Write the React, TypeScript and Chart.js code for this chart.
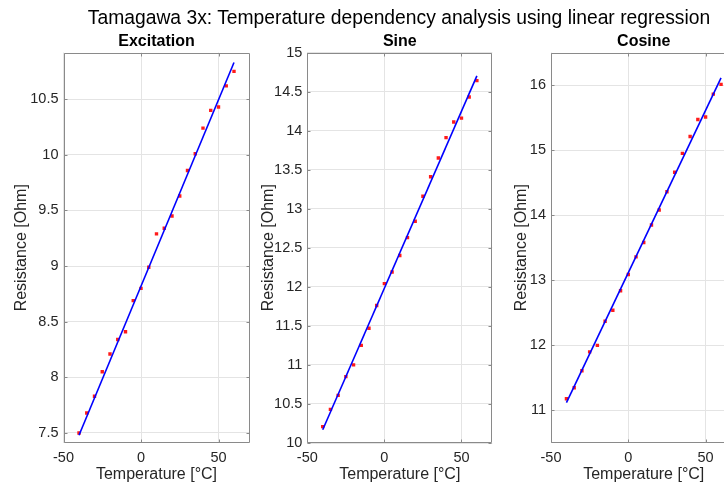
import React, { useEffect, useRef } from "react";
import { Chart, registerables } from "chart.js";

Chart.register(...registerables);

// ---- data ----
const temperatures = [-40, -35, -30, -25, -20, -15, -10, -5, 0, 5, 10, 15, 20, 25, 30, 35, 40, 45, 50, 55, 60];

const excitationValues = [7.50, 7.68, 7.83, 8.05, 8.21, 8.34, 8.41, 8.69, 8.80, 8.99, 9.29, 9.34, 9.45, 9.63, 9.86, 10.01, 10.24, 10.40, 10.43, 10.62, 10.75];
const sineValues = [10.21, 10.43, 10.61, 10.85, 11.00, 11.25, 11.47, 11.76, 12.04, 12.19, 12.40, 12.63, 12.84, 13.16, 13.41, 13.65, 13.91, 14.11, 14.16, 14.43, 14.64];
const cosineValues = [11.18, 11.35, 11.61, 11.90, 12.00, 12.37, 12.54, 12.84, 13.09, 13.36, 13.58, 13.85, 14.08, 14.36, 14.66, 14.95, 15.21, 15.47, 15.51, 15.86, 16.01];

// regression line end points (at first and last temperature)
const fitTemperatures = [-40, 60];
const excitationFit = [7.48, 10.83];
const sineFit = [10.17, 14.70];
const cosineFit = [11.12, 16.11];

const xTicks = [-50, 0, 50];
const excitationTicks = [7.5, 8, 8.5, 9, 9.5, 10, 10.5];
const sineTicks = [10, 10.5, 11, 11.5, 12, 12.5, 13, 13.5, 14, 14.5, 15];
const cosineTicks = [11, 12, 13, 14, 15, 16];

const mainTitle = "Tamagawa 3x: Temperature dependency analysis using linear regression";
const panelTitles = ["Excitation", "Sine", "Cosine"];
const xLabel = "Temperature [°C]";
const yLabel = "Resistance [Ohm]";

const FONT = "'Liberation Sans', Arial, Helvetica, sans-serif";
const AXIS_COLOR = "#8a8a8a";
const TEXT_COLOR = "#262626";
const GRID_COLOR = "#e4e4e4";

type Panel = {
  title: string;
  values: number[];
  fit: number[];
  yTicks: number[];
  yMin: number;
  yMax: number;
  left: number;
  width: number;
  yAxisWidth: number;
  padRight: number;
  yTitlePad: number;
};

const panels: Panel[] = [
  { title: panelTitles[0], values: excitationValues, fit: excitationFit, yTicks: excitationTicks, yMin: 7.41, yMax: 10.92, left: 0, width: 254, yAxisWidth: 63.5, padRight: 4.5, yTitlePad: 12.4 },
  { title: panelTitles[1], values: sineValues, fit: sineFit, yTicks: sineTicks, yMin: 10, yMax: 15, left: 254, width: 244, yAxisWidth: 53.3, padRight: 5.7, yTitlePad: 5.4 },
  { title: panelTitles[2], values: cosineValues, fit: cosineFit, yTicks: cosineTicks, yMin: 10.5, yMax: 16.5, left: 498, width: 250, yAxisWidth: 53, padRight: 11.5, yTitlePad: 13.9 },
];

const HEIGHT = 486;
const PLOT_BOTTOM = 443;

const boxPlugin = {
  id: "matlabBox",
  afterDraw(chart: any) {
    const { ctx, chartArea } = chart;
    const xs = chart.scales.x;
    const ys = chart.scales.y;
    const l = Math.round(chartArea.left) + 0.5;
    const r = Math.round(chartArea.right) - 0.5;
    const t = Math.round(chartArea.top) + 0.5;
    const b = Math.round(chartArea.bottom) - 0.5;
    ctx.save();
    ctx.strokeStyle = AXIS_COLOR;
    ctx.lineWidth = 1;
    ctx.beginPath();
    ctx.rect(l, t, r - l, b - t);
    const len = 3;
    xs.ticks.forEach((tk: any) => {
      const p = Math.round(xs.getPixelForValue(tk.value)) + 0.5;
      ctx.moveTo(p, b);
      ctx.lineTo(p, b - len);
      ctx.moveTo(p, t);
      ctx.lineTo(p, t + len);
    });
    ys.ticks.forEach((tk: any) => {
      const p = Math.round(ys.getPixelForValue(tk.value)) + 0.5;
      ctx.moveTo(l, p);
      ctx.lineTo(l + len, p);
      ctx.moveTo(r, p);
      ctx.lineTo(r - len, p);
    });
    ctx.stroke();
    ctx.restore();
  },
};

function PanelChart({ panel }: { panel: Panel }) {
  const ref = useRef<HTMLCanvasElement | null>(null);
  useEffect(() => {
    if (!ref.current) return;
    const points = temperatures.map((t, i) => ({ x: t, y: panel.values[i] }));
    const line = fitTemperatures.map((t, i) => ({ x: t, y: panel.fit[i] }));
    const chart = new Chart(ref.current, {
      type: "scatter",
      data: {
        datasets: [
          {
            label: "fit",
            data: line,
            showLine: true,
            borderColor: "#0000ff",
            borderWidth: 1.6,
            pointRadius: 0,
            fill: false,
          },
          {
            label: "measured",
            data: points,
            pointStyle: "rect",
            pointRadius: 2.4,
            backgroundColor: "#ff1a1a",
            borderWidth: 0,
          },
        ],
      } as any,
      options: {
        animation: false,
        responsive: false,
        devicePixelRatio: 1,
        events: [],
        layout: { padding: { left: 0, right: panel.padRight, top: 0, bottom: 0 } },
        plugins: {
          legend: { display: false },
          tooltip: { enabled: false },
          title: {
            display: true,
            text: panel.title,
            fullSize: false,
            color: "#000",
            font: { family: FONT, size: 16, weight: "bold" },
            padding: { top: 32, bottom: 1.3 },
          },
        },
        scales: {
          x: {
            type: "linear",
            min: -50,
            max: 70,
            afterBuildTicks: (s: any) => {
              s.ticks = xTicks.map((value) => ({ value }));
            },
            afterFit: (s: any) => {
              s.height = HEIGHT - PLOT_BOTTOM;
            },
            ticks: {
              color: TEXT_COLOR,
              font: { family: FONT, size: 14.5 },
              padding: 5.8,
              maxRotation: 0,
              autoSkip: false,
              callback: (v: any) => String(v),
            },
            grid: { color: GRID_COLOR, drawTicks: false, lineWidth: 1 },
            border: { display: false },
            title: {
              display: true,
              text: xLabel,
              color: TEXT_COLOR,
              font: { family: FONT, size: 16 },
              padding: { top: 0, bottom: 1.4 },
            },
          },
          y: {
            type: "linear",
            min: panel.yMin,
            max: panel.yMax,
            afterBuildTicks: (s: any) => {
              s.ticks = panel.yTicks.map((value) => ({ value }));
            },
            afterFit: (s: any) => {
              s.width = panel.yAxisWidth;
            },
            ticks: {
              color: TEXT_COLOR,
              font: { family: FONT, size: 14.5 },
              padding: 5,
              autoSkip: false,
              callback: (v: any) => String(v),
            },
            grid: { color: GRID_COLOR, drawTicks: false, lineWidth: 1 },
            border: { display: false },
            title: {
              display: true,
              text: yLabel,
              color: TEXT_COLOR,
              font: { family: FONT, size: 16 },
              padding: { top: panel.yTitlePad, bottom: 0 },
            },
          },
        },
      } as any,
      plugins: [boxPlugin],
    });
    return () => chart.destroy();
  }, [panel]);
  return (
    <canvas
      ref={ref}
      width={panel.width}
      height={HEIGHT}
      style={{ position: "absolute", left: panel.left, top: 0, width: panel.width, height: HEIGHT, display: "block" }}
    />
  );
}

export default function App() {
  return (
    <div
      style={{
        position: "absolute",
        left: 0,
        top: 0,
        width: 724,
        height: HEIGHT,
        overflow: "hidden",
        background: "#fff",
      }}
    >
      {panels.map((p) => (
        <PanelChart key={p.title} panel={p} />
      ))}
      <div
        style={{
          position: "absolute",
          left: 0,
          top: 7,
          width: 798,
          textAlign: "center",
          fontFamily: FONT,
          fontSize: 19.3,
          lineHeight: "22px",
          color: "#000",
          whiteSpace: "nowrap",
        }}
      >
        {mainTitle}
      </div>
    </div>
  );
}
